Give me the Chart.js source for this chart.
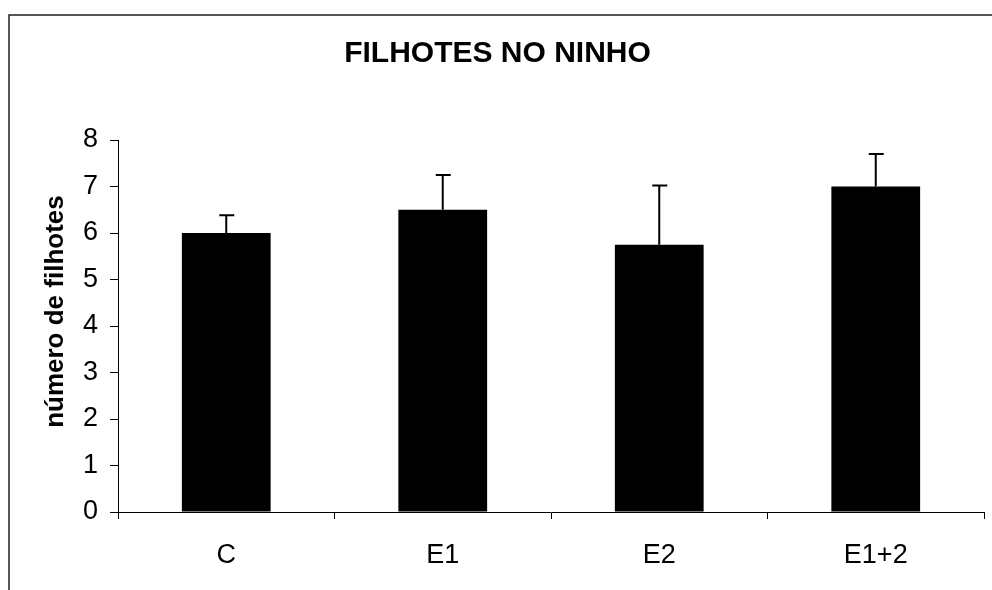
<!DOCTYPE html>
<html lang="pt">
<head>
  <meta charset="UTF-8">
  <title>Filhotes no ninho</title>
  <script src="https://cdn.jsdelivr.net/npm/chart.js"></script>
  <style>
    body { margin: 0; background: #fff; }
  </style>
</head>
<body>
  <canvas id="nestChart" width="992" height="590"></canvas>

  <script>
    const groups = ['C', 'E1', 'E2', 'E1+2'];
    const chicks = [6.0, 6.5, 5.75, 7.0];
    const chicksErr = [0.38, 0.75, 1.27, 0.70];
    const yTicks = [0, 1, 2, 3, 4, 5, 6, 7, 8];

    const FONT = "'Liberation Sans', Arial, sans-serif";

    // outer frame of the figure (only top and left sides are visible)
    const framePlugin = {
      id: 'frame',
      beforeDraw(chart) {
        const ctx = chart.ctx;
        ctx.save();
        ctx.strokeStyle = '#222';
        ctx.lineWidth = 1.5;
        ctx.beginPath();
        ctx.moveTo(9, chart.height + 5);
        ctx.lineTo(9, 15);
        ctx.lineTo(chart.width + 5, 15);
        ctx.stroke();
        ctx.restore();
      }
    };

    // upward error bars with a small cap
    const errorBars = {
      id: 'errorBars',
      afterDatasetsDraw(chart) {
        const ctx = chart.ctx;
        const yScale = chart.scales.y;
        const bars = chart.getDatasetMeta(0).data;
        ctx.save();
        ctx.strokeStyle = '#000';
        ctx.lineWidth = 2;
        bars.forEach((bar, i) => {
          const top = yScale.getPixelForValue(chicks[i] + chicksErr[i]);
          const base = yScale.getPixelForValue(chicks[i]);
          ctx.beginPath();
          ctx.moveTo(bar.x, base);
          ctx.lineTo(bar.x, top);
          ctx.moveTo(bar.x - 7, top);
          ctx.lineTo(bar.x + 8, top);
          ctx.stroke();
        });
        ctx.restore();
      }
    };

    const ctx = document.getElementById('nestChart').getContext('2d');
    new Chart(ctx, {
      type: 'bar',
      data: {
        labels: groups,
        datasets: [{
          data: chicks,
          backgroundColor: '#000',
          borderWidth: 0,
          categoryPercentage: 1,
          barPercentage: 0.41
        }]
      },
      options: {
        responsive: false,
        animation: false,
        layout: { padding: { left: 11, right: 8, top: 0, bottom: 0 } },
        plugins: {
          legend: { display: false },
          tooltip: { enabled: false },
          title: {
            display: true,
            text: 'FILHOTES NO NINHO',
            color: '#000',
            font: { family: FONT, size: 30, weight: 'bold' },
            padding: { top: 36, bottom: 68 }
          }
        },
        scales: {
          x: {
            afterFit(scale) { scale.height = 78; },
            grid: {
              offset: true,
              drawOnChartArea: false,
              drawTicks: true,
              tickLength: 7,
              color: '#000'
            },
            border: { color: '#000', width: 1 },
            ticks: {
              color: '#000',
              padding: 20,
              font: { family: FONT, size: 27 }
            }
          },
          y: {
            min: 0,
            max: 8,
            afterFit(scale) { scale.width = 107; },
            afterBuildTicks(scale) { scale.ticks = yTicks.map(v => ({ value: v })); },
            grid: {
              drawOnChartArea: false,
              drawTicks: true,
              tickLength: 8,
              color: '#000'
            },
            border: { color: '#000', width: 1 },
            ticks: {
              color: '#000',
              padding: 12,
              font: { family: FONT, size: 27 }
            },
            title: {
              display: true,
              // leading spaces nudge the rotated label up, as in the original
              text: '\u00a0\u00a0\u00a0\u00a0número de filhotes',
              color: '#000',
              font: { family: FONT, size: 26, weight: 'bold' },
              padding: { top: 29, bottom: 0 }
            }
          }
        }
      },
      plugins: [framePlugin, errorBars]
    });
  </script>
</body>
</html>
